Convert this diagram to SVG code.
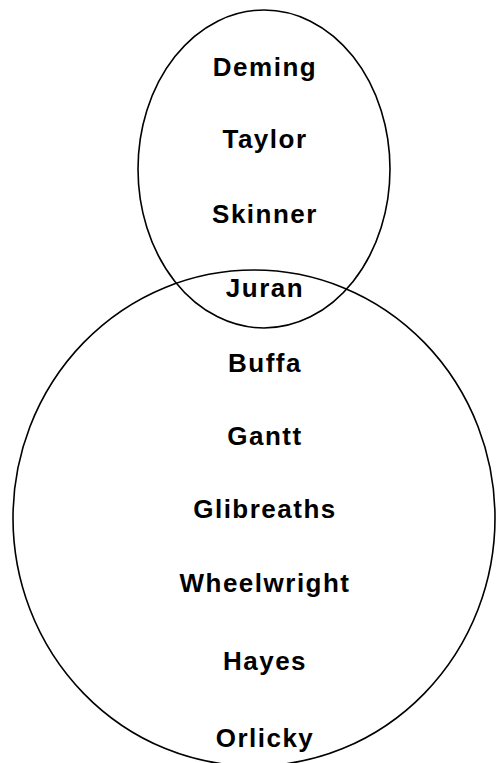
<svg xmlns="http://www.w3.org/2000/svg" width="496" height="763" viewBox="0 0 496 763">
<style>
.shape{fill:none;stroke:#000;stroke-width:1.6}
.lbl{font-family:"Liberation Sans",Arial,sans-serif;font-weight:bold;font-size:26px;letter-spacing:1.5px;text-anchor:middle;fill:#000}
</style>
<rect width="496" height="763" fill="#fff"/>
<g id="set-small"><ellipse class="shape" cx="264" cy="169" rx="126" ry="159"/></g>
<g id="set-large"><ellipse class="shape" cx="254" cy="518" rx="241" ry="248"/></g>
<g id="labels">
<g id="n-deming"><text class="lbl" x="265" y="76">Deming</text></g>
<g id="n-taylor"><text class="lbl" x="265" y="148">Taylor</text></g>
<g id="n-skinner"><text class="lbl" x="265" y="223">Skinner</text></g>
<g id="n-juran"><text class="lbl" x="265" y="297">Juran</text></g>
<g id="n-buffa"><text class="lbl" x="265" y="372">Buffa</text></g>
<g id="n-gantt"><text class="lbl" x="265" y="445">Gantt</text></g>
<g id="n-glibreaths"><text class="lbl" x="265" y="518">Glibreaths</text></g>
<g id="n-wheelwright"><text class="lbl" x="265" y="592">Wheelwright</text></g>
<g id="n-hayes"><text class="lbl" x="265" y="670">Hayes</text></g>
<g id="n-orlicky"><text class="lbl" x="265" y="747">Orlicky</text></g>
</g>
</svg>
